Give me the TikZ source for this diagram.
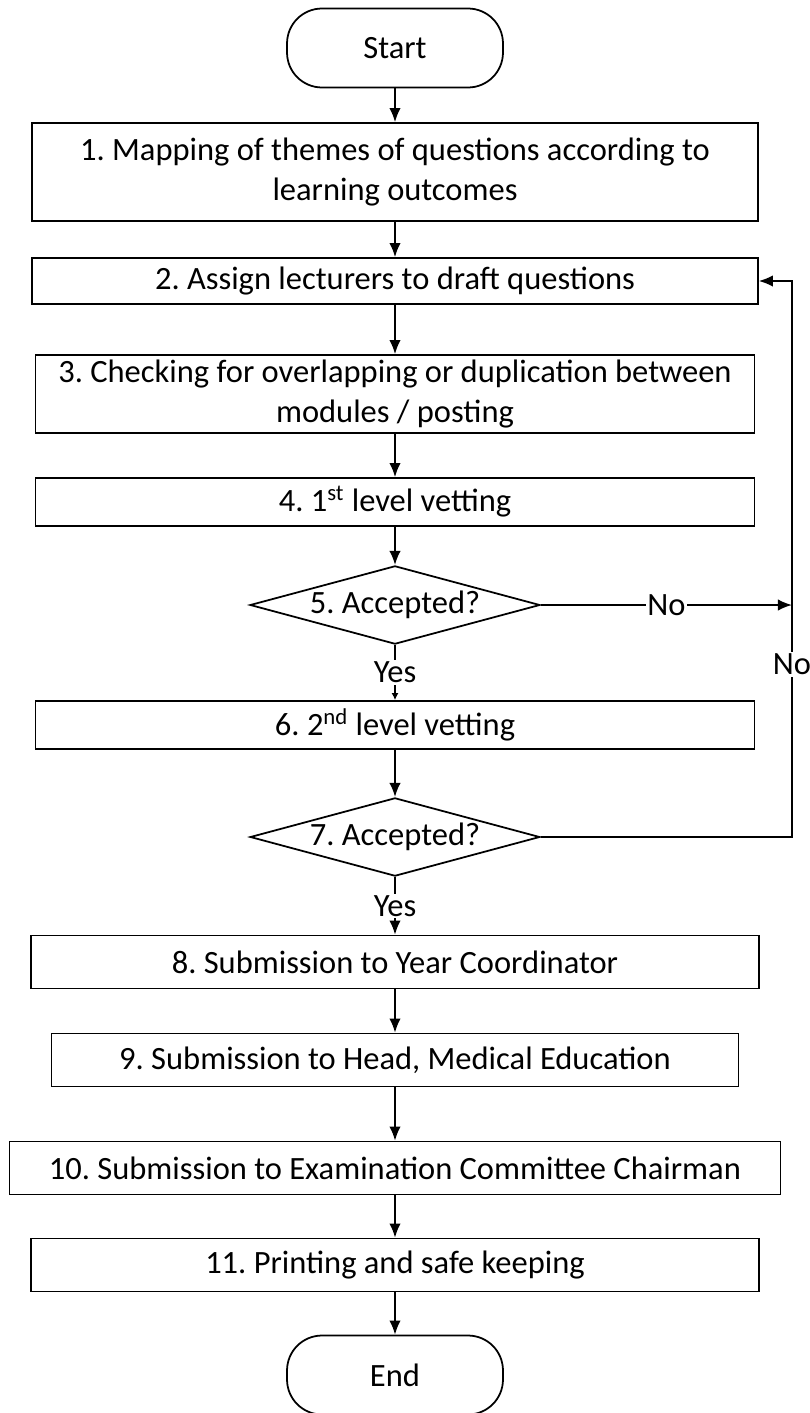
\documentclass[tikz,border=0pt]{standalone}
\usepackage{fontspec}
\setmainfont{Carlito}
\usetikzlibrary{shapes.geometric,arrows.meta}

\begin{document}
\frenchspacing
\begin{tikzpicture}[x=0.02cm, y=-0.02cm,
  every node/.style={font=\fontsize{18.5}{23}\selectfont},
  process/.style={draw, rectangle, line width=1pt, align=center, inner sep=2pt},
  decision/.style={draw, diamond, aspect=3.7, line width=1pt, inner sep=1pt,
    minimum width=5.8cm, minimum height=1.56cm},
  terminal/.style={draw, rectangle, rounded corners=0.7cm, line width=1pt,
    minimum width=4.32cm, minimum height=1.58cm},
  flow/.style={-{Latex[length=8pt,width=6.5pt]}, line width=1pt},
  lbl/.style={fill=white, inner sep=1pt}]

  \useasboundingbox (0,0) rectangle (809,1413);

  % Start
  \node[terminal] (start) at (395,48) {Start};

  % Steps 1 to 4
  \node[process, minimum width=14.52cm, minimum height=1.96cm] (map) at (395,172)
    {1. Mapping of themes of questions according to\\learning outcomes};
  \node[process, minimum width=14.52cm, minimum height=0.92cm] (assign) at (395,281)
    {2. Assign lecturers to draft questions};
  \node[process, minimum width=14.38cm, minimum height=1.56cm] (check) at (395,394)
    {3. Checking for overlapping or duplication between\\modules / posting};
  \node[process, minimum width=14.38cm, minimum height=0.96cm] (vet1) at (395,502)
    {4. 1\textsuperscript{st} level vetting};

  % First decision
  \node[decision] (acc1) at (395,605) {5. Accepted?};

  % Step 6
  \node[process, minimum width=14.38cm, minimum height=0.96cm] (vet2) at (395,725)
    {6. 2\textsuperscript{nd} level vetting};

  % Second decision
  \node[decision, minimum width=5.76cm, minimum height=1.54cm] (acc2) at (395,837) {7. Accepted?};

  % Steps 8 to 11
  \node[process, minimum width=14.56cm, minimum height=1.06cm] (year) at (395,962)
    {8. Submission to Year Coordinator};
  \node[process, minimum width=13.74cm, minimum height=1.06cm] (head) at (395,1060)
    {9. Submission to Head, Medical Education};
  \node[process, minimum width=15.42cm, minimum height=1.06cm] (chair) at (395,1168)
    {10. Submission to Examination Committee Chairman};
  \node[process, minimum width=14.56cm, minimum height=1.06cm] (print) at (395,1265)
    {11. Printing and safe keeping};

  % End
  \node[terminal] (end) at (395,1375) {End};

  % Main flow
  \draw[flow] (start) -- (map);
  \draw[flow] (map) -- (assign);
  \draw[flow] (assign) -- (check);
  \draw[flow] (check) -- (vet1);
  \draw[flow] (vet1) -- (acc1.north);
  \draw[-{Latex[length=4pt,width=4pt]}, line width=1pt] (acc1) -- node[lbl] {Yes} (vet2);
  \draw[flow] (vet2) -- (acc2.north);
  \draw[flow] (acc2) -- node[lbl] {Yes} (year);
  \draw[flow] (year) -- (head);
  \draw[flow] (head) -- (chair);
  \draw[flow] (chair) -- (print);
  \draw[flow] (print) -- (end);

  % Rejection loop
  \coordinate (loop) at (792,281);
  \draw[flow] (acc1.east) -- node[lbl] {No} (acc1.east -| loop);
  \draw[flow] (acc2.east) -- (acc2.east -| loop) -- node[lbl, pos=0.31] {No} (loop) -- (assign.east);

\end{tikzpicture}
\end{document}
